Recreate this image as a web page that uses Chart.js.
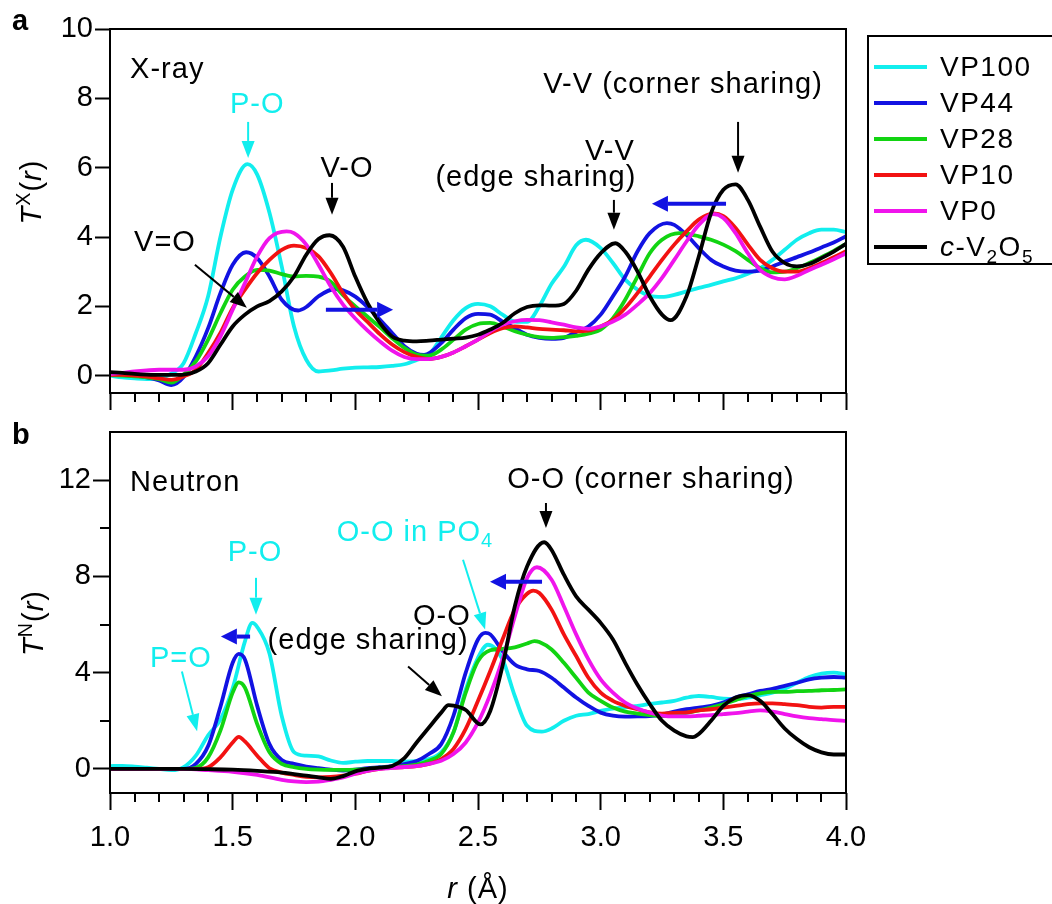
<!DOCTYPE html>
<html>
<head>
<meta charset="utf-8">
<script src="https://cdn.jsdelivr.net/npm/chart.js@4.4.0/dist/chart.umd.min.js"></script>
<style>
  body { margin: 0; background: #fff; }
  #wrap { position: relative; width: 1052px; height: 904px; overflow: hidden;
          font-family: "Liberation Sans", Arial, sans-serif; color: #000; }
  canvas { position: absolute; left: 0; }
  #xray { top: 0; }
  #neutron { top: 400px; }
  .txt { position: absolute; white-space: nowrap; line-height: 1; font-size: 29px; letter-spacing: 1px; }
  .panel { font-weight: bold; letter-spacing: 0; }
  .ytitle { transform: translate(-50%, -50%) rotate(-90deg); }
  .xtitle { transform: translate(-50%, -50%); }
  sup, sub { font-size: 0.68em; line-height: 0; }
  #legend { position: absolute; left: 867px; top: 35px; width: 183px; height: 226px;
            border: 2px solid #000; background: #fff; }
  .row { position: absolute; left: 5px; height: 36px; display: flex; align-items: center;
         font-size: 28px; letter-spacing: 1.5px; white-space: nowrap; }
  .sw { width: 53px; height: 4px; margin-right: 13px; }
</style>
</head>
<body>
<div id="wrap">
  <canvas id="xray" width="880" height="420"></canvas>
  <canvas id="neutron" width="880" height="504"></canvas>
  <div class="txt panel" style="left:12px; top:6px;">a</div>
  <div class="txt panel" style="left:12px; top:420px;">b</div>
  <div class="txt ytitle" style="left:31px; top:192px;"><i>T</i><sup>X</sup>(<i>r</i>)</div>
  <div class="txt ytitle" style="left:33px; top:623px;"><i>T</i><sup>N</sup>(<i>r</i>)</div>
  <div class="txt xtitle" style="left:478px; top:888px;"><i>r</i> (Å)</div>
  <div id="legend"></div>
</div>
<script>
// sample names and line colours (legend order)
const names = ['VP100', 'VP44', 'VP28', 'VP10', 'VP0', 'c-V2O5'];
const colors = ['#12eeee', '#1212e2', '#12d412', '#f21212', '#f014ec', '#000000'];

// X-ray total correlation T^X(r): [r, T]
const xVP100 = [[1.00,0.00],[1.05,-0.05],[1.10,-0.08],[1.15,-0.10],[1.20,-0.08],[1.25,0.06],[1.30,0.36],[1.35,1.23],[1.40,2.29],[1.45,4.00],[1.50,5.36],[1.56,6.10],[1.60,5.80],[1.65,4.70],[1.70,3.15],[1.75,1.42],[1.80,0.46],[1.85,0.12],[1.90,0.15],[1.95,0.20],[2.00,0.23],[2.05,0.24],[2.10,0.25],[2.15,0.28],[2.20,0.33],[2.25,0.45],[2.30,0.60],[2.35,1.10],[2.40,1.60],[2.45,1.95],[2.50,2.07],[2.55,2.00],[2.60,1.76],[2.65,1.56],[2.70,1.55],[2.75,2.00],[2.80,2.65],[2.85,3.14],[2.90,3.76],[2.94,3.92],[3.00,3.68],[3.05,3.25],[3.10,2.77],[3.15,2.48],[3.20,2.30],[3.25,2.27],[3.30,2.33],[3.35,2.43],[3.40,2.53],[3.45,2.62],[3.50,2.72],[3.55,2.81],[3.60,2.94],[3.65,3.10],[3.70,3.34],[3.75,3.63],[3.80,3.92],[3.85,4.11],[3.90,4.21],[3.95,4.21],[4.00,4.14]];
const xVP44 = [[1.00,0.03],[1.05,0.02],[1.10,0.00],[1.15,-0.05],[1.20,-0.14],[1.25,-0.27],[1.30,-0.04],[1.35,0.56],[1.40,1.37],[1.45,2.38],[1.50,3.20],[1.555,3.56],[1.60,3.39],[1.65,2.86],[1.70,2.19],[1.767,1.88],[1.80,1.98],[1.85,2.29],[1.917,2.50],[1.95,2.46],[2.00,2.28],[2.05,1.98],[2.10,1.62],[2.15,1.23],[2.20,0.85],[2.25,0.63],[2.28,0.60],[2.35,0.94],[2.40,1.33],[2.45,1.66],[2.50,1.78],[2.55,1.76],[2.60,1.56],[2.65,1.37],[2.70,1.18],[2.75,1.09],[2.80,1.06],[2.85,1.09],[2.90,1.26],[2.95,1.42],[3.00,1.76],[3.05,2.29],[3.10,2.86],[3.15,3.58],[3.20,4.11],[3.27,4.40],[3.30,4.35],[3.35,4.06],[3.40,3.68],[3.45,3.34],[3.50,3.15],[3.55,3.03],[3.60,3.00],[3.65,3.03],[3.70,3.15],[3.75,3.29],[3.80,3.42],[3.85,3.55],[3.90,3.70],[3.95,3.84],[4.00,4.02]];
const xVP28 = [[1.00,0.02],[1.05,0.00],[1.10,-0.02],[1.15,-0.05],[1.20,-0.10],[1.25,-0.20],[1.30,0.03],[1.35,0.41],[1.40,1.04],[1.45,1.80],[1.50,2.48],[1.55,2.86],[1.60,3.05],[1.65,3.03],[1.70,2.93],[1.75,2.86],[1.80,2.88],[1.85,2.86],[1.90,2.71],[1.95,2.32],[2.00,2.00],[2.05,1.70],[2.10,1.40],[2.15,1.08],[2.20,0.80],[2.25,0.61],[2.30,0.58],[2.35,0.75],[2.40,1.04],[2.45,1.33],[2.50,1.49],[2.55,1.52],[2.60,1.42],[2.65,1.28],[2.70,1.18],[2.75,1.11],[2.80,1.09],[2.85,1.11],[2.90,1.15],[2.95,1.21],[3.00,1.33],[3.05,1.66],[3.10,2.19],[3.15,2.86],[3.20,3.53],[3.25,3.92],[3.32,4.11],[3.35,4.10],[3.40,4.02],[3.45,3.92],[3.50,3.78],[3.55,3.59],[3.60,3.34],[3.65,3.10],[3.70,2.98],[3.75,3.00],[3.80,3.10],[3.85,3.25],[3.90,3.42],[3.95,3.60],[4.00,3.80]];
const xVP10 = [[1.00,0.02],[1.05,0.02],[1.10,0.00],[1.15,-0.03],[1.20,-0.08],[1.25,-0.12],[1.30,-0.02],[1.35,0.17],[1.40,0.65],[1.45,1.23],[1.50,1.95],[1.55,2.48],[1.60,2.96],[1.65,3.34],[1.70,3.63],[1.75,3.75],[1.80,3.68],[1.85,3.44],[1.90,2.96],[1.95,2.38],[2.00,1.90],[2.05,1.55],[2.10,1.20],[2.15,0.90],[2.20,0.68],[2.25,0.54],[2.30,0.48],[2.35,0.54],[2.40,0.67],[2.45,0.85],[2.50,1.04],[2.55,1.23],[2.60,1.37],[2.65,1.42],[2.70,1.39],[2.75,1.35],[2.80,1.33],[2.85,1.31],[2.90,1.28],[2.95,1.30],[3.00,1.42],[3.05,1.61],[3.10,1.95],[3.15,2.38],[3.20,2.86],[3.25,3.34],[3.30,3.78],[3.35,4.16],[3.40,4.50],[3.46,4.68],[3.50,4.60],[3.55,4.26],[3.60,3.78],[3.65,3.34],[3.70,3.10],[3.75,3.00],[3.80,3.00],[3.85,3.10],[3.90,3.25],[3.95,3.42],[4.00,3.59]];
const xVP0 = [[1.00,0.05],[1.05,0.08],[1.10,0.12],[1.15,0.15],[1.20,0.17],[1.25,0.17],[1.30,0.17],[1.35,0.27],[1.40,0.56],[1.45,1.13],[1.50,1.90],[1.55,2.67],[1.60,3.44],[1.65,3.97],[1.72,4.16],[1.75,4.11],[1.80,3.78],[1.85,3.20],[1.90,2.57],[1.95,2.05],[2.00,1.65],[2.05,1.30],[2.10,0.99],[2.15,0.72],[2.20,0.54],[2.25,0.48],[2.30,0.48],[2.35,0.54],[2.40,0.67],[2.45,0.85],[2.50,1.04],[2.55,1.28],[2.60,1.47],[2.65,1.57],[2.70,1.61],[2.75,1.60],[2.80,1.54],[2.85,1.47],[2.90,1.39],[2.95,1.35],[3.00,1.42],[3.05,1.56],[3.10,1.76],[3.15,2.05],[3.20,2.38],[3.25,2.82],[3.30,3.34],[3.35,3.87],[3.40,4.35],[3.46,4.66],[3.50,4.55],[3.55,4.11],[3.60,3.53],[3.65,3.05],[3.70,2.84],[3.75,2.78],[3.80,2.88],[3.85,3.05],[3.90,3.20],[3.95,3.36],[4.00,3.53]];
const xV2O5 = [[1.00,0.10],[1.05,0.08],[1.10,0.05],[1.15,0.03],[1.20,0.02],[1.25,0.02],[1.30,0.03],[1.35,0.12],[1.40,0.36],[1.45,0.89],[1.50,1.42],[1.55,1.76],[1.60,2.00],[1.65,2.15],[1.70,2.43],[1.75,2.86],[1.80,3.49],[1.85,3.94],[1.895,4.05],[1.95,3.72],[2.00,2.85],[2.05,2.09],[2.10,1.52],[2.15,1.13],[2.20,1.01],[2.25,0.99],[2.30,1.01],[2.35,1.04],[2.40,1.07],[2.45,1.10],[2.50,1.18],[2.55,1.33],[2.60,1.52],[2.65,1.80],[2.70,1.98],[2.75,2.03],[2.80,2.02],[2.85,2.07],[2.90,2.45],[2.95,3.06],[3.00,3.53],[3.06,3.82],[3.10,3.58],[3.15,3.01],[3.20,2.29],[3.25,1.76],[3.285,1.60],[3.35,2.29],[3.40,3.44],[3.45,4.69],[3.50,5.36],[3.55,5.52],[3.60,5.07],[3.65,4.30],[3.70,3.58],[3.75,3.25],[3.80,3.15],[3.85,3.22],[3.90,3.39],[3.95,3.58],[4.00,3.80]];

// neutron total correlation T^N(r): [r, T]
const nVP100 = [[1.00,0.12],[1.05,0.13],[1.10,0.10],[1.15,0.05],[1.20,0.00],[1.25,-0.05],[1.30,0.07],[1.35,0.55],[1.40,1.40],[1.45,2.05],[1.50,3.35],[1.55,5.30],[1.58,6.07],[1.60,5.90],[1.65,4.80],[1.70,2.20],[1.75,0.70],[1.80,0.55],[1.85,0.52],[1.90,0.35],[1.95,0.25],[2.00,0.30],[2.05,0.33],[2.10,0.33],[2.15,0.33],[2.20,0.30],[2.25,0.32],[2.30,0.41],[2.35,0.69],[2.40,1.52],[2.45,3.30],[2.50,4.62],[2.54,5.16],[2.60,4.55],[2.65,3.03],[2.70,1.79],[2.76,1.55],[2.80,1.68],[2.85,2.00],[2.90,2.21],[2.95,2.28],[3.00,2.41],[3.05,2.51],[3.10,2.55],[3.15,2.62],[3.20,2.70],[3.25,2.76],[3.30,2.83],[3.35,2.96],[3.40,3.03],[3.45,2.99],[3.50,2.92],[3.55,2.90],[3.60,2.96],[3.65,3.06],[3.70,3.17],[3.75,3.33],[3.80,3.58],[3.85,3.82],[3.90,3.96],[3.95,4.00],[4.00,3.93]];
const nVP44 = [[1.00,0.00],[1.10,0.00],[1.20,0.00],[1.30,0.00],[1.35,0.21],[1.40,0.95],[1.45,2.58],[1.50,4.41],[1.525,4.78],[1.55,4.55],[1.60,2.62],[1.65,1.03],[1.70,0.37],[1.75,0.21],[1.80,0.10],[1.85,0.03],[1.90,-0.03],[1.95,-0.07],[2.00,-0.03],[2.05,0.03],[2.10,0.07],[2.15,0.12],[2.20,0.20],[2.25,0.33],[2.30,0.62],[2.35,1.03],[2.40,2.21],[2.45,4.00],[2.50,5.38],[2.53,5.65],[2.55,5.59],[2.60,4.90],[2.65,4.34],[2.70,4.14],[2.75,4.07],[2.80,3.79],[2.85,3.38],[2.90,2.97],[2.95,2.62],[3.00,2.34],[3.05,2.21],[3.10,2.17],[3.15,2.18],[3.20,2.20],[3.25,2.26],[3.30,2.38],[3.35,2.48],[3.40,2.55],[3.45,2.62],[3.50,2.76],[3.55,2.97],[3.60,3.10],[3.65,3.24],[3.70,3.33],[3.75,3.45],[3.80,3.58],[3.85,3.72],[3.90,3.79],[3.95,3.82],[4.00,3.79]];
const nVP28 = [[1.00,0.00],[1.10,0.00],[1.20,0.00],[1.30,0.00],[1.35,0.05],[1.40,0.48],[1.45,1.59],[1.50,3.17],[1.525,3.60],[1.55,3.38],[1.60,1.86],[1.65,0.69],[1.70,0.21],[1.75,0.07],[1.80,0.00],[1.85,-0.03],[1.90,-0.04],[1.95,-0.04],[2.00,-0.03],[2.05,0.00],[2.10,0.05],[2.15,0.08],[2.20,0.12],[2.25,0.18],[2.30,0.34],[2.35,0.62],[2.40,1.52],[2.45,3.17],[2.50,4.48],[2.55,4.93],[2.60,4.99],[2.65,5.05],[2.70,5.21],[2.73,5.31],[2.75,5.27],[2.80,4.96],[2.85,4.41],[2.90,3.79],[2.95,3.17],[3.00,2.83],[3.05,2.55],[3.10,2.38],[3.15,2.30],[3.20,2.24],[3.25,2.20],[3.30,2.24],[3.35,2.33],[3.40,2.43],[3.45,2.55],[3.50,2.69],[3.55,2.86],[3.60,3.03],[3.65,3.14],[3.70,3.20],[3.75,3.20],[3.80,3.23],[3.85,3.24],[3.90,3.27],[3.95,3.28],[4.00,3.31]];
const nVP10 = [[1.00,0.00],[1.10,0.00],[1.20,0.00],[1.30,0.00],[1.35,0.00],[1.40,0.07],[1.45,0.48],[1.50,1.10],[1.525,1.33],[1.55,1.14],[1.60,0.55],[1.65,0.03],[1.70,-0.15],[1.75,-0.25],[1.80,-0.33],[1.85,-0.35],[1.90,-0.33],[1.95,-0.28],[2.00,-0.20],[2.05,-0.08],[2.10,0.00],[2.15,0.05],[2.20,0.08],[2.25,0.12],[2.30,0.21],[2.35,0.41],[2.40,0.83],[2.45,1.66],[2.50,2.83],[2.55,4.07],[2.60,5.38],[2.65,6.62],[2.70,7.28],[2.725,7.41],[2.75,7.31],[2.80,6.62],[2.85,5.59],[2.90,4.69],[2.95,3.79],[3.00,3.17],[3.05,2.83],[3.10,2.62],[3.15,2.48],[3.20,2.35],[3.25,2.30],[3.30,2.33],[3.35,2.35],[3.40,2.43],[3.45,2.48],[3.50,2.55],[3.55,2.62],[3.60,2.69],[3.65,2.72],[3.70,2.72],[3.75,2.69],[3.80,2.65],[3.85,2.58],[3.90,2.55],[3.95,2.58],[4.00,2.58]];
const nVP0 = [[1.00,0.00],[1.10,0.00],[1.20,0.00],[1.30,0.00],[1.40,-0.05],[1.50,-0.12],[1.60,-0.25],[1.70,-0.45],[1.75,-0.52],[1.80,-0.55],[1.85,-0.53],[1.90,-0.45],[1.95,-0.35],[2.00,-0.20],[2.05,-0.08],[2.10,0.00],[2.15,0.04],[2.20,0.08],[2.25,0.12],[2.30,0.21],[2.35,0.34],[2.40,0.62],[2.45,1.10],[2.50,1.93],[2.55,3.10],[2.60,4.55],[2.65,6.34],[2.70,7.93],[2.74,8.38],[2.80,7.86],[2.85,6.76],[2.90,5.59],[2.95,4.55],[3.00,3.72],[3.05,3.17],[3.10,2.76],[3.15,2.51],[3.20,2.34],[3.25,2.22],[3.30,2.18],[3.35,2.18],[3.40,2.21],[3.45,2.24],[3.50,2.28],[3.55,2.32],[3.60,2.38],[3.65,2.43],[3.70,2.38],[3.75,2.28],[3.80,2.18],[3.85,2.11],[3.90,2.07],[3.95,2.03],[4.00,2.00]];
const nV2O5 = [[1.00,0.00],[1.10,0.00],[1.20,0.00],[1.30,0.00],[1.40,-0.01],[1.50,-0.03],[1.60,-0.08],[1.70,-0.15],[1.80,-0.28],[1.85,-0.35],[1.90,-0.41],[1.95,-0.30],[2.00,-0.10],[2.05,0.00],[2.10,0.05],[2.15,0.12],[2.20,0.45],[2.25,1.10],[2.30,1.72],[2.35,2.34],[2.38,2.65],[2.40,2.63],[2.45,2.45],[2.51,1.85],[2.55,2.41],[2.60,4.28],[2.65,6.76],[2.70,8.41],[2.77,9.42],[2.80,9.10],[2.85,8.07],[2.90,7.17],[2.95,6.62],[3.00,6.07],[3.05,5.38],[3.10,4.41],[3.15,3.50],[3.20,2.70],[3.25,2.00],[3.30,1.59],[3.35,1.35],[3.375,1.32],[3.40,1.45],[3.45,2.00],[3.50,2.62],[3.55,2.97],[3.60,3.07],[3.65,2.83],[3.70,2.28],[3.75,1.68],[3.80,1.24],[3.85,0.90],[3.90,0.69],[3.95,0.60],[4.00,0.60]];

const xraySeries = [xVP100, xVP44, xVP28, xVP10, xVP0, xV2O5];
const neutronSeries = [nVP100, nVP44, nVP28, nVP10, nVP0, nV2O5];

// tick values
const xMajor = [1.0, 1.5, 2.0, 2.5, 3.0, 3.5, 4.0];
const yMajorX = [0, 2, 4, 6, 8, 10];
const yMajorN = [0, 4, 8, 12];
const yMinorN = [2, 6, 10];

const CYAN = colors[0], BLUE = colors[1], BLACK = '#000';

// labels and arrows, placed in data units
const xrayTexts = [
  { at: [1.082, 8.82], text: 'X-ray', align: 'left' },
  { at: [1.60, 7.81], text: 'P-O', color: CYAN },
  { at: [1.966, 5.97], text: 'V-O' },
  { at: [1.224, 3.83], text: 'V=O' },
  { at: [3.336, 8.39], text: 'V-V (corner sharing)' },
  { at: [3.038, 6.46], text: 'V-V' },
  { at: [2.736, 5.71], text: '(edge sharing)' }
];
const xrayArrows = [
  { from: [1.563, 7.32], to: [1.563, 6.28], color: CYAN },
  { from: [1.905, 5.56], to: [1.905, 4.64] },
  { from: [1.346, 3.20], to: [1.558, 1.96] },
  { from: [1.880, 1.90], to: [2.154, 1.90], color: BLUE, bold: true },
  { from: [3.56, 7.32], to: [3.56, 5.85] },
  { from: [3.054, 5.07], to: [3.054, 4.21] },
  { from: [3.511, 4.96], to: [3.209, 4.96], color: BLUE, bold: true }
];
const neutronTexts = [
  { at: [1.082, 11.87], text: 'Neutron', align: 'left' },
  { at: [1.591, 8.98], text: 'P-O', color: CYAN },
  { at: [1.289, 4.55], text: 'P=O', color: CYAN },
  { at: [2.353, 6.33], text: 'O-O' },
  { at: [2.052, 5.30], text: '(edge sharing)' },
  { at: [2.243, 9.81], text: 'O-O in PO', sub: '4', color: CYAN },
  { at: [3.205, 12.0], text: 'O-O (corner sharing)' }
];
const neutronArrows = [
  { from: [1.595, 7.94], to: [1.595, 6.41], color: CYAN },
  { from: [1.571, 5.50], to: [1.452, 5.50], color: BLUE, bold: true },
  { from: [1.293, 4.05], to: [1.355, 1.57], color: CYAN },
  { from: [2.215, 4.26], to: [2.353, 3.02] },
  { from: [2.439, 8.69], to: [2.529, 5.79], color: CYAN },
  { from: [2.777, 11.05], to: [2.777, 10.01] },
  { from: [2.761, 7.78], to: [2.549, 7.78], color: BLUE, bold: true }
];

Chart.defaults.font.family = '"Liberation Sans", Arial, sans-serif';
Chart.defaults.color = '#000';

function drawArrow(ctx, x1, y1, x2, y2, color, bold) {
  const head = bold ? 16 : 17, half = bold ? 8 : 6.5;
  const ang = Math.atan2(y2 - y1, x2 - x1);
  const bx = x2 - head * Math.cos(ang), by = y2 - head * Math.sin(ang);
  ctx.strokeStyle = color; ctx.fillStyle = color;
  ctx.lineWidth = bold ? 4 : 2;
  ctx.beginPath(); ctx.moveTo(x1, y1); ctx.lineTo(bx, by); ctx.stroke();
  ctx.beginPath();
  ctx.moveTo(x2, y2);
  ctx.lineTo(bx + half * Math.sin(ang), by - half * Math.cos(ang));
  ctx.lineTo(bx - half * Math.sin(ang), by + half * Math.cos(ang));
  ctx.closePath(); ctx.fill();
}

function notes(texts, arrows) {
  return {
    id: 'notes',
    afterDraw(chart) {
      const { ctx, scales: { x, y } } = chart;
      ctx.save();
      arrows.forEach(a => drawArrow(ctx,
        x.getPixelForValue(a.from[0]), y.getPixelForValue(a.from[1]),
        x.getPixelForValue(a.to[0]), y.getPixelForValue(a.to[1]),
        a.color || BLACK, a.bold));
      ctx.textBaseline = 'middle';
      ctx.textAlign = 'left';
      ctx.letterSpacing = '1px';
      texts.forEach(t => {
        const px = x.getPixelForValue(t.at[0]), py = y.getPixelForValue(t.at[1]);
        ctx.fillStyle = t.color || BLACK;
        ctx.font = '29px "Liberation Sans", Arial, sans-serif';
        const w1 = ctx.measureText(t.text).width;
        let w2 = 0;
        if (t.sub) {
          ctx.font = '20px "Liberation Sans", Arial, sans-serif';
          w2 = ctx.measureText(t.sub).width;
          ctx.font = '29px "Liberation Sans", Arial, sans-serif';
        }
        const left = t.align === 'left' ? px : px - (w1 + w2) / 2;
        ctx.fillText(t.text, left, py);
        if (t.sub) {
          ctx.font = '20px "Liberation Sans", Arial, sans-serif';
          ctx.fillText(t.sub, left + w1, py + 9);
        }
      });
      ctx.restore();
    }
  };
}

// box round the plot and the short minor ticks
function frame(xMinor, yMinor) {
  return {
    id: 'frame',
    afterDraw(chart) {
      const { ctx, chartArea: a, scales: { x, y } } = chart;
      ctx.save();
      ctx.strokeStyle = '#000';
      ctx.lineWidth = 2;
      ctx.strokeRect(a.left, a.top, a.right - a.left, a.bottom - a.top);
      ctx.beginPath();
      xMinor.forEach(v => {
        const px = Math.round(x.getPixelForValue(v));
        ctx.moveTo(px, a.bottom); ctx.lineTo(px, a.bottom + 9);
      });
      yMinor.forEach(v => {
        const py = Math.round(y.getPixelForValue(v));
        ctx.moveTo(a.left, py); ctx.lineTo(a.left - 10, py);
      });
      ctx.stroke();
      ctx.restore();
    }
  };
}

const xMinor = [];
for (let i = 10; i <= 40; i++) if (i % 5 !== 0) xMinor.push(i / 10);

function makeChart(id, series, opts) {
  return new Chart(document.getElementById(id), {
    type: 'line',
    data: {
      datasets: series.map((s, i) => ({
        label: names[i],
        data: s.map(([r, t]) => ({ x: r, y: t })),
        borderColor: colors[i],
        borderWidth: 3.8,
        pointRadius: 0,
        fill: false,
        cubicInterpolationMode: 'monotone',
        order: names.length - 1 - i
      }))
    },
    options: {
      responsive: false,
      animation: false,
      devicePixelRatio: 1,
      layout: { padding: { top: opts.padTop, right: 34, left: 0, bottom: 0 } },
      plugins: { legend: { display: false }, tooltip: { enabled: false } },
      scales: {
        x: {
          type: 'linear', min: 1, max: 4,
          afterBuildTicks: s => { s.ticks = xMajor.map(v => ({ value: v })); },
          afterFit: s => { s.height = opts.xHeight; },
          grid: { drawOnChartArea: false, drawTicks: true, tickLength: 17, tickWidth: 2, tickColor: '#000' },
          border: { display: false },
          ticks: {
            font: { size: 29 }, padding: 11, maxRotation: 0,
            callback: v => opts.xLabels ? Number(v).toFixed(1) : ''
          }
        },
        y: {
          min: opts.yMin, max: opts.yMax,
          afterBuildTicks: s => { s.ticks = opts.yMajor.map(v => ({ value: v })); },
          afterFit: s => { s.width = 110; },
          grid: { drawOnChartArea: false, drawTicks: true, tickLength: opts.yTick, tickWidth: 2, tickColor: '#000' },
          border: { display: false },
          ticks: { font: { size: 29 }, padding: 2, callback: v => String(v) }
        }
      }
    },
    plugins: [frame(xMinor, opts.yMinor), notes(opts.texts, opts.arrows)]
  });
}

makeChart('xray', xraySeries, {
  padTop: 29, xHeight: 27, xLabels: false, yMin: -0.5, yMax: 10, yMajor: yMajorX,
  yMinor: [], yTick: 15, texts: xrayTexts, arrows: xrayArrows
});
makeChart('neutron', neutronSeries, {
  padTop: 32, xHeight: 111, xLabels: true, yMin: -1, yMax: 14, yMajor: yMajorN,
  yMinor: yMinorN, yTick: 17, texts: neutronTexts, arrows: neutronArrows
});

// legend box built from the series names and colours
const legend = document.getElementById('legend');
names.forEach((n, i) => {
  const row = document.createElement('div');
  row.className = 'row';
  row.style.top = (12 + i * 35.9) + 'px';
  const label = n.startsWith('c-')
    ? n.replace(/^c-/, '<i>c</i>-').replace(/([A-Z])(\d)/g, '$1<sub>$2</sub>')
    : n;
  row.innerHTML = '<span class="sw" style="background:' + colors[i] + '"></span><span>' + label + '</span>';
  legend.appendChild(row);
});
</script>
</body>
</html>
